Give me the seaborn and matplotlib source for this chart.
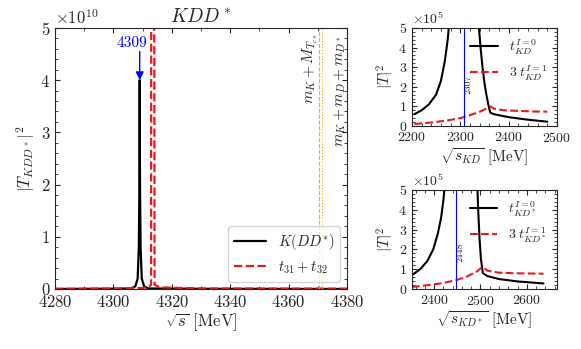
"""
KDD* three-body amplitude |T|^2 and the two-body KD, KD* sub-amplitudes
"""
import numpy as np
import pandas as pd
import matplotlib
matplotlib.use('Agg')
import matplotlib.pyplot as plt
from matplotlib.ticker import MultipleLocator
import seaborn as sns

# ---- data ----
# main panel: sqrt(s) [MeV] and |T_KDD*|^2
kdd_x = [4280, 4300, 4306, 4307.5, 4308.3, 4308.7, 4308.9, 4309.0, 4309.1, 4309.3,
         4309.7, 4310.5, 4312, 4330, 4380]
kdd_y = [0.0, 0.005e10, 0.01e10, 0.05e10, 0.2e10, 0.8e10, 2.0e10, 4.0e10, 2.0e10,
         0.8e10, 0.2e10, 0.05e10, 0.01e10, 0.003e10, 0.0]
t3132_x = [4280, 4300, 4310, 4312.0, 4312.9, 4313.0, 4314.0, 4314.1, 4316, 4330, 4380]
t3132_y = [0.003e10, 0.008e10, 0.02e10, 0.04e10, 0.08e10, 12.0e10, 4.6e10,
           0.08e10, 0.03e10, 0.01e10, 0.005e10]
peak_label = 4309
thr_tcs = 4370.3      # m_K + M_Tcs
thr_kddstar = 4371.4  # m_K + m_D + m_D*

# top right: sqrt(s_KD)
kd_x = [2205, 2220, 2235, 2250, 2260, 2268, 2274, 2278, 2285, 2310, 2334, 2338, 2342,
        2346, 2350, 2354, 2358, 2362, 2370, 2400, 2440, 2480]
kd_i0 = [0.6e5, 0.8e5, 1.1e5, 1.6e5, 2.3e5, 3.3e5, 4.4e5, 5.5e5, 9e5, 30e5, 9e5,
         5.2e5, 4.0e5, 3.0e5, 2.2e5, 1.6e5, 1.1e5, 0.68e5, 0.6e5, 0.45e5, 0.32e5, 0.22e5]
kd_i1_x = [2205, 2240, 2270, 2300, 2320, 2340, 2355, 2362, 2370, 2390, 2420, 2450, 2480]
kd_i1 = [0.1e5, 0.18e5, 0.27e5, 0.4e5, 0.55e5, 0.72e5, 0.9e5, 1.0e5, 0.88e5, 0.8e5,
         0.77e5, 0.74e5, 0.73e5]
pole_kd = 2307

# bottom right: sqrt(s_KD*)
kds_x = [2352, 2370, 2385, 2398, 2408, 2415, 2420, 2424, 2430, 2460, 2488, 2492, 2495,
         2498, 2501, 2505, 2515, 2540, 2580, 2636]
kds_i0 = [0.7e5, 1.0e5, 1.4e5, 2.0e5, 2.8e5, 3.6e5, 4.5e5, 5.5e5, 9e5, 30e5, 9e5,
          6.0e5, 4.0e5, 2.5e5, 1.5e5, 0.8e5, 0.65e5, 0.5e5, 0.38e5, 0.28e5]
kds_i1_x = [2352, 2390, 2420, 2448, 2470, 2490, 2505, 2515, 2540, 2580, 2636]
kds_i1 = [0.1e5, 0.2e5, 0.3e5, 0.45e5, 0.62e5, 0.85e5, 1.12e5, 0.92e5, 0.82e5,
          0.79e5, 0.77e5]
pole_kds = 2448

# ---- style ----
sns.set_style('ticks')
plt.rcParams['font.family'] = 'serif'
plt.rcParams['font.serif'] = ['cmr10', 'DejaVu Serif']
plt.rcParams['mathtext.fontset'] = 'cm'
plt.rcParams['axes.formatter.use_mathtext'] = True
plt.rcParams['axes.unicode_minus'] = False
plt.rcParams['xtick.direction'] = 'in'
plt.rcParams['ytick.direction'] = 'in'
plt.rcParams['xtick.top'] = True
plt.rcParams['ytick.right'] = True
plt.rcParams['axes.linewidth'] = 0.8

BLACK = 'black'
RED = '#e41a1c'

fig = plt.figure(figsize=(5.81, 3.49), dpi=100)
ax = fig.add_axes([0.0947, 0.172, 0.5026, 0.748])
ax1 = fig.add_axes([0.709, 0.639, 0.2496, 0.281])
ax2 = fig.add_axes([0.709, 0.172, 0.2496, 0.284])

# --- main panel ---
sns.lineplot(x=kdd_x, y=kdd_y, sort=False, color=BLACK, lw=1.6, ax=ax,
             label=r'$K(DD^{*})$')
sns.lineplot(x=t3132_x, y=t3132_y, sort=False, color=RED, lw=1.6, ls='--', ax=ax,
             label=r'$t_{31}+t_{32}$')
ax.axvline(thr_tcs, color='cyan', lw=0.8, ls='--')
ax.axvline(thr_kddstar, color='orange', lw=0.8, ls=':')
ax.text(thr_tcs - 3.0, 4.88e10, r'$m_K+M_{T_{cs}}$', rotation=90, ha='center',
        va='top', fontsize=11)
ax.text(thr_kddstar + 6.2, 4.85e10, r'$m_K+m_D+m_{D^*}$', rotation=90, ha='center',
        va='top', fontsize=11)
ax.annotate('', xy=(peak_label, 4.0e10), xytext=(peak_label, 4.55e10),
            arrowprops=dict(arrowstyle='-|>', color='blue', lw=1.0, mutation_scale=12,
                            shrinkA=0, shrinkB=0))
ax.text(peak_label - 2.8, 4.57e10, str(peak_label), color='blue', ha='center',
        va='bottom', fontsize=11)
ax.set_xlim(4280, 4380)
ax.set_ylim(0, 5e10)
ax.xaxis.set_major_locator(MultipleLocator(20))
ax.xaxis.set_minor_locator(MultipleLocator(10))
ax.yaxis.set_major_locator(MultipleLocator(1e10))
ax.yaxis.set_minor_locator(MultipleLocator(0.2e10))
ax.ticklabel_format(style='sci', axis='y', scilimits=(0, 0), useMathText=True)
ax.yaxis.get_offset_text().set_fontsize(12)
ax.tick_params(labelsize=12)
ax.set_xlabel(r'$\sqrt{s}$ [MeV]', fontsize=12, labelpad=1)
ax.set_ylabel(r'$|T_{KDD^*}|^2$', fontsize=12, labelpad=2)
ax.set_title(r'$KDD^*$', fontsize=14, pad=4)
ax.legend(loc='lower right', fontsize=10.5, handlelength=2.2, framealpha=0.8)

# --- right panels ---
for a, xs, y0, xs1, y1, pole, lab, xlim, xmaj in [
        (ax1, kd_x, kd_i0, kd_i1_x, kd_i1, pole_kd, 'KD', (2200, 2500), [2200, 2300, 2400, 2500]),
        (ax2, kds_x, kds_i0, kds_i1_x, kds_i1, pole_kds, 'KD^*', (2352, 2665), [2400, 2500, 2600])]:
    sns.lineplot(x=xs, y=y0, sort=False, color=BLACK, lw=1.5, ax=a,
                 label=r'$t^{I=0}_{%s}$' % lab)
    sns.lineplot(x=xs1, y=y1, sort=False, color=RED, lw=1.5, ls='--', ax=a,
                 label=r'$3\;t^{I=1}_{%s}$' % lab)
    a.axvline(pole, color='blue', lw=0.8)
    a.text(pole + 9, 2.1e5 if lab == 'KD' else 1.85e5, str(pole), rotation=90,
           ha='center', va='center', fontsize=7)
    a.set_xlim(*xlim)
    a.set_ylim(0, 5e5)
    a.set_xticks(xmaj)
    a.xaxis.set_minor_locator(MultipleLocator(20))
    a.yaxis.set_major_locator(MultipleLocator(1e5))
    a.yaxis.set_minor_locator(MultipleLocator(0.2e5))
    a.ticklabel_format(style='sci', axis='y', scilimits=(0, 0), useMathText=True)
    a.yaxis.get_offset_text().set_fontsize(10)
    a.tick_params(labelsize=10)
    a.set_ylabel(r'$|T|^2$', fontsize=11, labelpad=2)
    a.set_xlabel(r'$\sqrt{s_{%s}}$ [MeV]' % lab, fontsize=11, labelpad=1)
    a.legend(loc='upper right', frameon=False, fontsize=10, handlelength=2.0,
             borderaxespad=0.3)

fig.savefig('out.png', dpi=100)
